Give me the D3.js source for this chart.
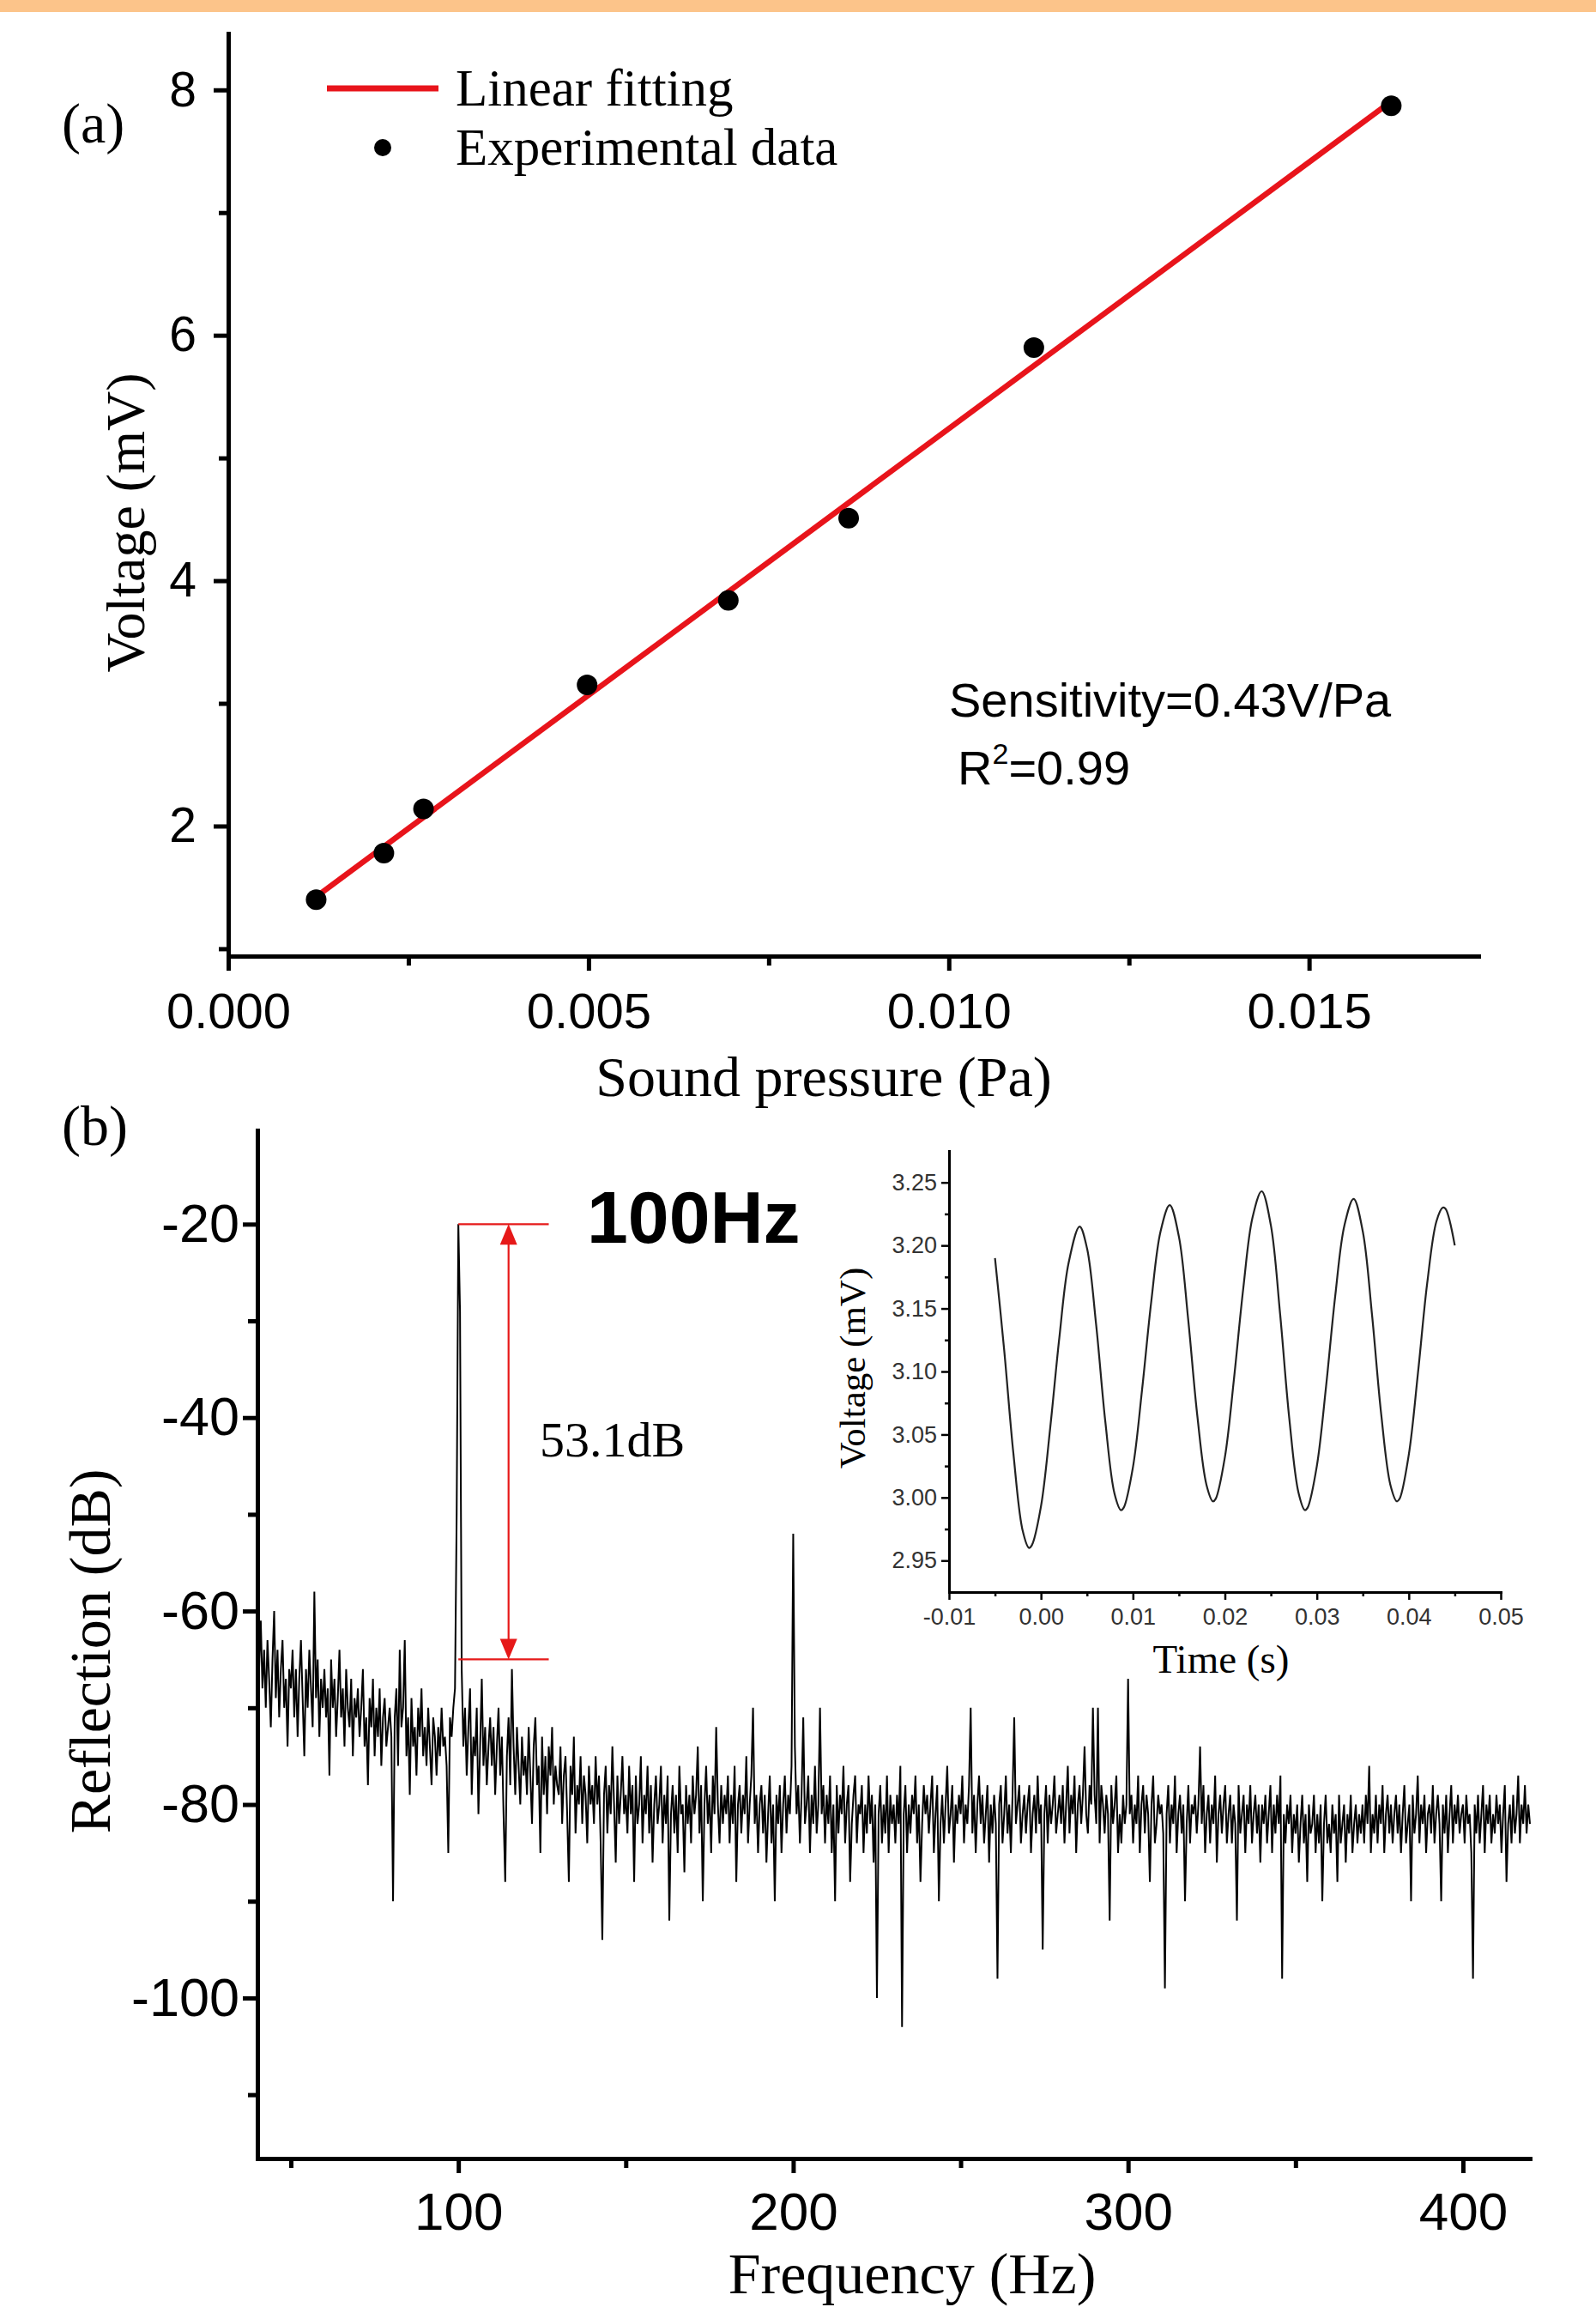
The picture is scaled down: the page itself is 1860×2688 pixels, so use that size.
<!DOCTYPE html>
<html>
<head>
<meta charset="utf-8">
<script src="https://cdn.jsdelivr.net/npm/d3@7"></script>
<style>
  body { margin: 0; background: #fff; }
</style>
</head>
<body>
<svg class="chart"></svg>
<script>
let width = 1860,
  height = 2688;

let serif = "'Liberation Serif', 'Times New Roman', serif";
let sans = "'Liberation Sans', Arial, sans-serif";

// ---- panel (a): voltage vs sound pressure
let pressure = [0.00122, 0.00216, 0.00271, 0.00498, 0.00694, 0.00861, 0.01118, 0.01614];
let voltage = [1.40, 1.78, 2.14, 3.15, 3.84, 4.51, 5.90, 7.87];
let aXTicks = [0, 0.005, 0.01, 0.015];
let aXMinor = [0.0025, 0.0075, 0.0125];
let aYTicks = [2, 4, 6, 8];
let aYMinor = [1, 3, 5, 7];

// ---- panel (b): reflection spectrum, one row per 10 Hz starting at 40 Hz
let specStart = 40;
let specRows = [
  [-62,-66,-61,-68,-64,-70,-63,-67,-72,-65,-60,-69,-64,-71,-66,-63,-70,-67,-74,-66],
  [-68,-64,-71,-66,-73,-67,-63,-69,-75,-66,-70,-64,-68,-72,-58,-69,-65,-73,-67,-70],
  [-66,-71,-68,-77,-65,-70,-67,-73,-69,-64,-71,-68,-74,-66,-70,-72,-67,-75,-69,-71],
  [-68,-73,-70,-66,-74,-71,-78,-69,-72,-67,-75,-70,-73,-68,-76,-71,-69,-74,-72,-70],
  [-73,-90,-71,-68,-76,-64,-72,-70,-63,-75,-71,-79,-69,-74,-72,-77,-70,-73,-68,-75],
  [-72,-76,-70,-74,-78,-71,-73,-77,-72,-75,-70,-74,-73,-76,-85,-71,-73,-70,-68,-50],
  [-20,-29,-66,-74,-70,-77,-72,-68,-79,-73,-75,-70,-81,-74,-67,-76,-72,-78,-74,-71],
  [-76,-72,-79,-74,-70,-77,-73,-81,-88,-75,-71,-78,-66,-74,-79,-72,-76,-80,-73,-77],
  [-75,-79,-72,-77,-82,-74,-71,-78,-76,-85,-73,-79,-75,-81,-74,-77,-72,-80,-76,-78],
  [-79,-74,-82,-77,-75,-81,-88,-76,-79,-73,-83,-78,-80,-75,-82,-77,-79,-84,-76,-80],
  [-78,-82,-75,-80,-77,-84,-94,-79,-76,-83,-78,-81,-74,-80,-86,-77,-82,-79,-75,-81],
  [-79,-83,-76,-81,-78,-88,-77,-82,-80,-75,-84,-79,-81,-76,-83,-78,-86,-80,-77,-82],
  [-80,-76,-84,-79,-82,-77,-92,-81,-78,-83,-79,-85,-76,-81,-80,-87,-78,-82,-79,-84],
  [-77,-81,-79,-74,-83,-78,-90,-80,-76,-82,-79,-85,-77,-81,-72,-80,-84,-78,-82,-79],
  [-81,-77,-84,-79,-82,-76,-88,-80,-78,-83,-79,-81,-75,-84,-80,-77,-70,-82,-79,-85],
  [-80,-78,-83,-79,-86,-81,-77,-84,-80,-90,-79,-82,-78,-85,-80,-77,-83,-79,-81,-76],
  [-52,-74,-81,-78,-84,-79,-71,-82,-80,-77,-85,-79,-82,-76,-83,-80,-70,-81,-78,-84],
  [-79,-82,-77,-85,-80,-90,-78,-83,-79,-81,-76,-84,-80,-78,-88,-82,-79,-77,-84,-80],
  [-81,-78,-85,-80,-83,-77,-82,-79,-86,-80,-100,-81,-78,-84,-80,-83,-77,-85,-79,-82],
  [-80,-84,-79,-82,-76,-103,-81,-78,-85,-80,-83,-79,-81,-77,-84,-80,-88,-82,-78,-81],
  [-79,-83,-80,-77,-85,-81,-78,-90,-82,-79,-84,-80,-76,-83,-81,-78,-86,-80,-82,-79],
  [-81,-77,-84,-80,-82,-78,-70,-83,-79,-85,-80,-77,-82,-79,-84,-81,-78,-86,-80,-83],
  [-79,-82,-98,-80,-78,-84,-81,-77,-83,-80,-85,-79,-71,-82,-80,-78,-84,-81,-79,-83],
  [-80,-78,-85,-81,-79,-83,-77,-82,-80,-95,-81,-78,-84,-79,-82,-80,-77,-83,-81,-79],
  [-82,-78,-84,-80,-76,-83,-79,-81,-77,-85,-80,-78,-82,-79,-74,-81,-83,-78,-80,-70],
  [-79,-82,-70,-84,-78,-80,-83,-79,-81,-92,-78,-82,-80,-77,-85,-81,-84,-79,-82,-80],
  [-67,-81,-79,-84,-80,-82,-77,-85,-80,-78,-83,-79,-81,-88,-80,-77,-84,-82,-79,-81],
  [-80,-83,-99,-81,-78,-84,-80,-82,-77,-85,-81,-79,-83,-80,-90,-82,-78,-84,-80,-81],
  [-79,-83,-80,-74,-82,-78,-85,-81,-79,-84,-80,-82,-77,-86,-81,-79,-83,-80,-78,-84],
  [-81,-79,-84,-80,-82,-92,-78,-83,-81,-79,-85,-80,-82,-78,-84,-81,-79,-83,-80,-86],
  [-80,-82,-79,-84,-81,-78,-85,-80,-83,-79,-82,-77,-98,-81,-84,-80,-82,-79,-85,-81],
  [-83,-80,-86,-82,-79,-84,-81,-88,-80,-83,-82,-79,-85,-81,-84,-80,-90,-82,-79,-84],
  [-82,-85,-80,-83,-81,-88,-79,-84,-82,-80,-86,-81,-83,-79,-85,-82,-80,-84,-81,-83],
  [-80,-84,-79,-82,-76,-85,-81,-83,-79,-84,-80,-82,-78,-85,-81,-79,-83,-80,-84,-81],
  [-79,-83,-80,-85,-81,-78,-84,-82,-80,-90,-79,-83,-81,-77,-84,-80,-82,-79,-85,-81],
  [-80,-83,-78,-84,-81,-79,-82,-90,-80,-83,-79,-85,-81,-78,-84,-80,-82,-79,-83,-81],
  [-80,-84,-79,-82,-81,-85,-98,-80,-83,-79,-84,-81,-78,-85,-80,-82,-79,-84,-81,-83],
  [-79,-82,-80,-85,-81,-78,-88,-82,-80,-84,-79,-83,-81,-77,-84,-80,-82,-78,-83,-80]
];
let specLast = -82; // value at 420 Hz
let bXTicks = [100, 200, 300, 400];
let bXMinor = [50, 150, 250, 350];
let bYTicks = [-20, -40, -60, -80, -100];
let bYMinor = [-30, -50, -70, -90, -110];
let peakSpan = [100, 127]; // red guide lines (Hz)
let peakTop = -20, peakBottom = -65, arrowFreq = 115;

// ---- inset: time signal
let insetTime = [-0.005, -0.004, -0.003, -0.002, -0.0013, -0.001, 0.000, 0.001, 0.002, 0.003, 0.0042,
  0.005, 0.006, 0.007, 0.008, 0.0087, 0.009, 0.010, 0.011, 0.012, 0.013, 0.014,
  0.015, 0.016, 0.017, 0.018, 0.0187, 0.019, 0.020, 0.021, 0.022, 0.023, 0.024,
  0.025, 0.026, 0.027, 0.028, 0.0287, 0.029, 0.030, 0.031, 0.032, 0.033, 0.034,
  0.035, 0.036, 0.037, 0.038, 0.0387, 0.039, 0.040, 0.041, 0.042, 0.043, 0.0437, 0.044, 0.045];
let insetVolt = [3.190, 3.117, 3.035, 2.974, 2.960, 2.962, 2.993, 3.055, 3.127, 3.186, 3.215,
  3.198, 3.137, 3.060, 3.003, 2.990, 2.992, 3.024, 3.086, 3.156, 3.211, 3.232,
  3.207, 3.142, 3.065, 3.010, 2.997, 2.999, 3.032, 3.095, 3.166, 3.222, 3.243,
  3.216, 3.146, 3.063, 3.004, 2.990, 2.992, 3.025, 3.088, 3.160, 3.216, 3.237,
  3.211, 3.145, 3.066, 3.010, 2.997, 2.999, 3.034, 3.099, 3.170, 3.219, 3.230, 3.229, 3.200];
let iXTicks = [-0.01, 0, 0.01, 0.02, 0.03, 0.04, 0.05];
let iXMinor = [-0.005, 0.005, 0.015, 0.025, 0.035, 0.045];
let iYTicks = [2.95, 3.0, 3.05, 3.1, 3.15, 3.2, 3.25];
let iYMinor = [2.975, 3.025, 3.075, 3.125, 3.175, 3.225];

let svg = d3.select(".chart").attr("width", width).attr("height", height);

// orange strip on top
svg.append("rect").attr("x", 0).attr("y", 0).attr("width", width).attr("height", 14).attr("fill", "#fcc48a");

function label(x, y, txt, size, family, opts = {}) {
  let t = svg.append("text")
    .attr("x", x).attr("y", y)
    .attr("font-size", size)
    .attr("font-family", family)
    .attr("text-anchor", opts.anchor || "start")
    .attr("fill", opts.fill || "#000")
    .text(txt);
  if (opts.rotate) t.attr("transform", `rotate(${opts.rotate},${x},${y})`);
  if (opts.bold) t.attr("font-weight", "bold");
  return t;
}

// plain hyphen instead of the unicode minus d3 puts in
function fmt(spec) {
  let f = d3.format(spec);
  return d => f(d).replace("\u2212", "-");
}

// draws a major + minor axis pair
function axis(maker, scale, pos, major, minor, o) {
  let g = svg.append("g").attr("transform", pos);
  g.call(maker(scale).tickValues(major).tickSize(o.big).tickSizeOuter(0).tickPadding(o.pad).tickFormat(o.fmt));
  g.attr("font-size", o.fs).attr("font-family", sans);
  g.select(".domain").attr("stroke-width", o.lw).attr("stroke-linecap", "square").attr("stroke", "#000");
  g.selectAll(".tick line").attr("stroke-width", o.tw).attr("stroke", "#000");
  g.selectAll(".tick text").attr("fill", o.color || "#000");
  let m = svg.append("g").attr("transform", pos);
  m.call(maker(scale).tickValues(minor).tickSize(o.small).tickSizeOuter(0).tickFormat(""));
  m.select(".domain").remove();
  m.selectAll(".tick line").attr("stroke-width", o.tw).attr("stroke", "#000");
  return g;
}

// ================= panel (a)
let xA = d3.scaleLinear().domain([0, 0.01735]).range([266, 1723]);
let yA = d3.scaleLinear().domain([0.94, 8.46]).range([1114, 39]);

axis(d3.axisBottom, xA, "translate(0,1114)", aXTicks, aXMinor,
  { big: 17, small: 11, pad: 26, fs: 58, lw: 5, tw: 5, fmt: fmt(".3f") });
axis(d3.axisLeft, yA, "translate(266,0)", aYTicks, aYMinor,
  { big: 17, small: 11, pad: 20, fs: 57, lw: 5, tw: 5, fmt: fmt("d") });

// least-squares fit of the experimental points
let mx = d3.mean(pressure), my = d3.mean(voltage);
let slope = d3.sum(pressure, (p, i) => (p - mx) * (voltage[i] - my)) / d3.sum(pressure, p => (p - mx) * (p - mx));
let fitX = d3.extent(pressure);

svg.append("path")
  .datum(fitX)
  .attr("d", d3.line().x(d => xA(d)).y(d => yA(my + slope * (d - mx))))
  .attr("stroke", "#e8141b")
  .attr("stroke-width", 6.5)
  .attr("fill", "none");

svg.selectAll(".dot")
  .data(pressure)
  .enter()
  .append("circle")
  .attr("class", "dot")
  .attr("cx", d => xA(d))
  .attr("cy", (d, i) => yA(voltage[i]))
  .attr("r", 12)
  .attr("fill", "#000");

// legend
svg.append("line").attr("x1", 381).attr("x2", 511).attr("y1", 103).attr("y2", 103)
  .attr("stroke", "#e8141b").attr("stroke-width", 7);
label(531, 123, "Linear fitting", 61, serif);
svg.append("circle").attr("cx", 446).attr("cy", 172).attr("r", 10).attr("fill", "#000");
label(531, 192, "Experimental data", 61, serif);

label(1106, 835, "Sensitivity=0.43V/Pa", 56, sans);
let r2 = label(1116, 914, "R", 56, sans);
r2.append("tspan").attr("font-size", 34).attr("dy", -24).text("2");
r2.append("tspan").attr("dy", 24).text("=0.99");

label(72, 166, "(a)", 66, serif);
label(960, 1277, "Sound pressure (Pa)", 66, serif, { anchor: "middle" });
label(168, 609, "Voltage (mV)", 64, serif, { anchor: "middle", rotate: -90 });

// ================= panel (b)
let xB = d3.scaleLinear().domain([40, 420]).range([300, 1783]);
let yB = d3.scaleLinear().domain([-116.6, -10.3]).range([2515, 1317]);

let spectrum = [];
specRows.forEach((row, r) => {
  row.forEach((v, i) => spectrum.push([specStart + r * 10 + i * 10 / row.length, v]));
});
spectrum.push([specStart + specRows.length * 10, specLast]);

axis(d3.axisBottom, xB, "translate(0,2515)", bXTicks, bXMinor,
  { big: 17, small: 11, pad: 22, fs: 62, lw: 5, tw: 5, fmt: fmt("d") });
axis(d3.axisLeft, yB, "translate(300,0)", bYTicks, bYMinor,
  { big: 17, small: 11, pad: 4, fs: 63, lw: 5, tw: 5, fmt: fmt("d") });

svg.append("path")
  .datum(spectrum)
  .attr("d", d3.line().x(d => xB(d[0])).y(d => yB(d[1])))
  .attr("stroke", "#000")
  .attr("stroke-width", 2)
  .attr("stroke-linejoin", "miter")
  .attr("fill", "none");

// 53.1 dB guide
let red = "#e61919";
[peakTop, peakBottom].forEach(v => {
  svg.append("line").attr("x1", xB(peakSpan[0])).attr("x2", xB(peakSpan[1]))
    .attr("y1", yB(v)).attr("y2", yB(v)).attr("stroke", red).attr("stroke-width", 2.2);
});
let ax = xB(arrowFreq), yT = yB(peakTop), yBt = yB(peakBottom);
svg.append("line").attr("x1", ax).attr("x2", ax).attr("y1", yT + 10).attr("y2", yBt - 10)
  .attr("stroke", red).attr("stroke-width", 2.2);
svg.append("path").attr("d", `M${ax},${yT} L${ax - 10},${yT + 24} L${ax + 10},${yT + 24} Z`).attr("fill", red);
svg.append("path").attr("d", `M${ax},${yBt} L${ax - 10},${yBt - 24} L${ax + 10},${yBt - 24} Z`).attr("fill", red);

label(684, 1448, "100Hz", 86, sans, { bold: true });
label(629, 1697, "53.1dB", 58, serif);

label(72, 1334, "(b)", 66, serif);
label(1063, 2672, "Frequency (Hz)", 68, serif, { anchor: "middle" });
label(128, 1924, "Reflection (dB)", 68, serif, { anchor: "middle", rotate: -90 });

// ================= inset
let xI = d3.scaleLinear().domain([-0.01, 0.05]).range([1106, 1749]);
let yI = d3.scaleLinear().domain([2.925, 3.275]).range([1855, 1341]);

axis(d3.axisBottom, xI, "translate(0,1855)", iXTicks, iXMinor,
  { big: 9, small: 5, pad: 10, fs: 27, lw: 3, tw: 2.5, color: "#333", fmt: fmt(".2f") });
axis(d3.axisLeft, yI, "translate(1106,0)", iYTicks, iYMinor,
  { big: 9, small: 5, pad: 5, fs: 27, lw: 3, tw: 2.5, color: "#333", fmt: fmt(".2f") });

svg.append("path")
  .datum(insetTime)
  .attr("d", d3.line().curve(d3.curveCatmullRom).x(d => xI(d)).y((d, i) => yI(insetVolt[i])))
  .attr("stroke", "#222")
  .attr("stroke-width", 2.2)
  .attr("fill", "none");

label(1423, 1949, "Time (s)", 47, serif, { anchor: "middle" });
label(1008, 1594, "Voltage (mV)", 43, serif, { anchor: "middle", rotate: -90 });
</script>
</body>
</html>
